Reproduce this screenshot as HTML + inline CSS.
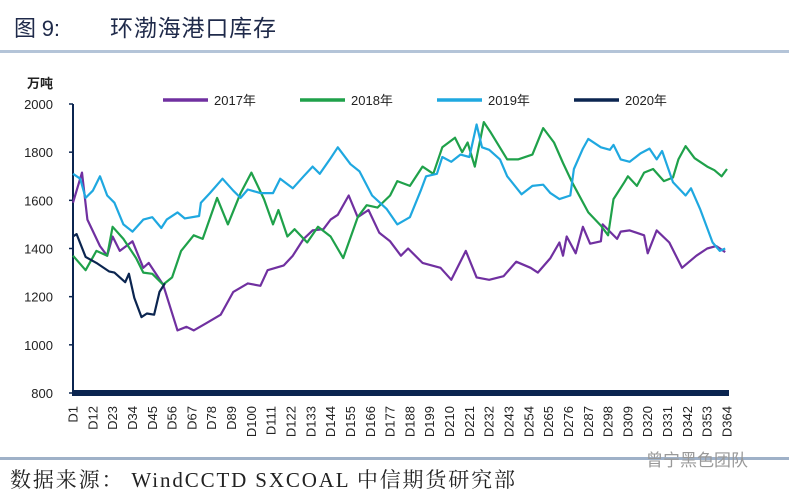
<!DOCTYPE html>
<html><head><meta charset="utf-8">
<style>
body{margin:0;background:#fff;width:789px;height:495px;overflow:hidden;font-family:"Liberation Sans","Noto Sans CJK SC",sans-serif;}
svg{display:block}
</style></head>
<body>
<svg id="chart" width="789" height="495" xmlns="http://www.w3.org/2000/svg">
  <text x="14" y="36" font-size="22" fill="#1f2a4a" textLength="46" font-family="Liberation Sans, Noto Sans CJK SC, sans-serif">图 9:</text>
  <text x="110" y="36" font-size="23" fill="#1f2a4a" textLength="166" font-family="Liberation Sans, Noto Sans CJK SC, sans-serif">环渤海港口库存</text>
  <rect x="0" y="50" width="789" height="3" fill="#b4c4d8"/>
  <text x="27" y="88" font-size="13" fill="#222" font-weight="bold" font-family="Liberation Sans, Noto Sans CJK SC, sans-serif">万吨</text>
  <g id="plot"></g>
  <rect x="0" y="457" width="789" height="3" fill="#9fb1c8"/>
  <text x="10" y="487" font-size="21" fill="#222" textLength="505" font-family="Liberation Serif, Noto Serif CJK SC, serif">数据来源： WindCCTD SXCOAL 中信期货研究部</text>
  <text x="646" y="466" font-size="17" fill="#999" font-family="Liberation Sans, Noto Sans CJK SC, sans-serif">曾宁黑色团队</text>
</svg>
<script>
const yTicks=[800,1000,1200,1400,1600,1800,2000];
const xTickDays=[1,12,23,34,45,56,67,78,89,100,111,122,133,144,155,166,177,188,199,210,221,232,243,254,265,276,287,298,309,320,331,342,353,364];
const seriesNames=["2017年","2018年","2019年","2020年"];
const days2017=[1,6,9,16,20,23,27,34,40,43,51,59,64,68,75,83,90,98,105,109,118,123,129,134,140,144,148,154,159,165,171,177,183,187,195,205,211,219,225,232,240,247,255,259,266,271,273,275,280,284,288,294,295,303,305,310,318,320,325,332,339,347,353,358,363];
const vals2017=[1590,1715,1520,1410,1370,1450,1390,1430,1320,1340,1250,1060,1075,1060,1090,1125,1220,1255,1245,1310,1330,1370,1440,1475,1480,1520,1540,1620,1530,1560,1465,1430,1370,1400,1340,1320,1270,1390,1280,1270,1285,1345,1320,1300,1360,1425,1370,1450,1380,1490,1420,1430,1500,1440,1470,1475,1455,1380,1475,1425,1320,1370,1400,1410,1385];
const days2018=[1,8,14,20,23,29,36,40,45,51,56,61,68,73,81,87,94,100,107,112,115,120,124,131,137,144,151,159,164,170,177,181,188,195,201,206,213,217,220,224,229,233,242,248,256,262,268,273,278,287,294,298,301,307,309,314,318,323,329,334,337,341,346,353,357,361,364];
const vals2018=[1370,1310,1390,1370,1490,1440,1360,1300,1295,1250,1280,1390,1455,1440,1610,1500,1630,1715,1605,1500,1560,1450,1480,1425,1490,1450,1360,1530,1580,1570,1620,1680,1660,1740,1710,1820,1860,1800,1840,1740,1925,1880,1770,1770,1790,1900,1840,1755,1675,1550,1495,1455,1605,1675,1700,1660,1715,1730,1680,1695,1770,1825,1775,1740,1725,1700,1730];
const days2019=[1,5,8,12,16,20,24,29,34,40,45,50,53,59,63,71,72,77,84,90,94,98,105,112,116,123,129,134,138,144,148,155,160,167,175,181,188,194,197,203,206,211,216,221,225,228,232,238,242,250,256,262,266,271,277,279,284,287,294,299,301,305,310,316,321,325,328,334,341,344,349,356,360,363];
const vals2019=[1710,1690,1610,1640,1700,1620,1590,1500,1470,1520,1530,1485,1520,1550,1525,1535,1590,1630,1690,1640,1610,1645,1630,1630,1690,1650,1700,1740,1710,1775,1820,1750,1720,1620,1565,1500,1530,1640,1700,1710,1780,1760,1790,1780,1915,1820,1810,1770,1700,1625,1660,1665,1630,1605,1620,1730,1815,1855,1820,1810,1830,1770,1760,1795,1815,1770,1805,1675,1620,1650,1565,1425,1390,1400];
const days2020=[1,3,8,14,21,24,30,32,35,39,42,46,49,52];
const vals2020=[1450,1460,1365,1340,1305,1300,1260,1295,1195,1115,1130,1125,1220,1255];
const colors=["#7030a0","#1fa14a","#1fa8e0","#0b2550"];

const X0=73,X1=727,Y0=393,Y1=104;
function xs(d){return X0+(d-1)*(X1-X0)/363;}
function ys(v){return Y0-(v-800)*(Y0-Y1)/1200;}
const NS="http://www.w3.org/2000/svg";
const plot=document.getElementById('plot');
function mk(tag,attrs){const e=document.createElementNS(NS,tag);for(const k in attrs)e.setAttribute(k,attrs[k]);return e;}

const yax=mk('line',{x1:X0,y1:Y1,x2:X0,y2:Y0,stroke:'#0b2550','stroke-width':2});


plot.appendChild(yax);
yTicks.forEach(v=>{
  const t=mk('line',{x1:X0-4,y1:ys(v),x2:X0,y2:ys(v),stroke:'#0b2550','stroke-width':1.5});
  
  
  plot.appendChild(t);
  const l=mk('text',{x:53,y:ys(v)+5,'text-anchor':'end','font-size':13,fill:'#222'});
  
  
  l.textContent=v;plot.appendChild(l);
});
xTickDays.forEach(d=>{
  const x=xs(d)+4.5;
  const l=mk('text',{x:x,y:406,'text-anchor':'end','font-size':13,fill:'#222',transform:`rotate(-90 ${x} 406)`});
  
  
  l.textContent='D'+d;plot.appendChild(l);
});
const allDays=[days2017,days2018,days2019,days2020];
const allVals=[vals2017,vals2018,vals2019,vals2020];
[0,1,2,3].forEach(i=>{
  const pts=allDays[i].map((d,j)=>xs(d).toFixed(1)+','+ys(allVals[i][j]).toFixed(1)).join(' ');
  const p=mk('polyline',{points:pts,fill:'none',stroke:colors[i],'stroke-width':2.2,'stroke-linejoin':'round'});
  
  
  plot.appendChild(p);
});
const xax=mk('rect',{x:X0-1,y:Y0-3,width:X1-X0+3,height:6,fill:'#0b2550'});


plot.appendChild(xax);
const legX=[163,300,437,574];
seriesNames.forEach((n,i)=>{
  const g=mk('g',{});
  
  
  g.appendChild(mk('line',{x1:legX[i],y1:100,x2:legX[i]+45,y2:100,stroke:colors[i],'stroke-width':3.5}));
  const t=mk('text',{x:legX[i]+51,y:105,'font-size':13,fill:'#222'});
  t.textContent=n;g.appendChild(t);
  plot.appendChild(g);
});
</script>
</body></html>
